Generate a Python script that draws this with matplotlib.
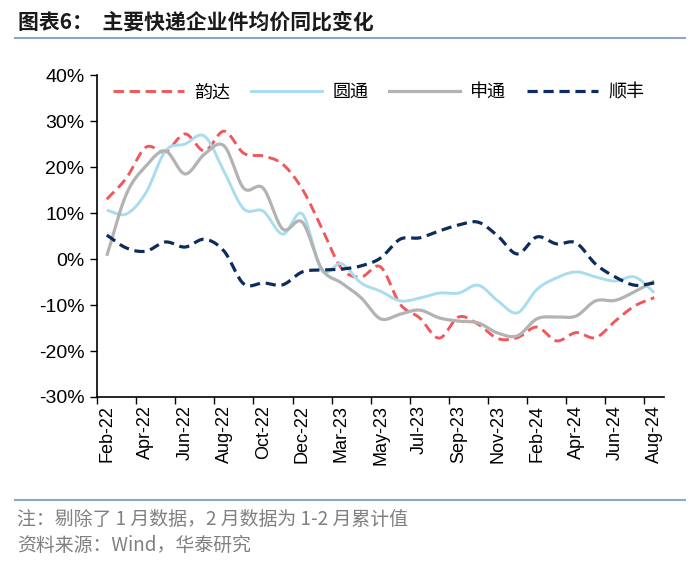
import numpy as np
import matplotlib.pyplot as plt
from matplotlib.ticker import FuncFormatter
from matplotlib.lines import Line2D

plt.rcParams['font.family'] = ['Liberation Sans', 'Noto Sans CJK SC', 'DejaVu Sans']

months = ['Feb-22', 'Mar-22', 'Apr-22', 'May-22', 'Jun-22', 'Jul-22', 'Aug-22', 'Sep-22', 'Oct-22', 'Nov-22', 'Dec-22',
          'Feb-23', 'Mar-23', 'Apr-23', 'May-23', 'Jun-23', 'Jul-23', 'Aug-23', 'Sep-23', 'Oct-23', 'Nov-23', 'Dec-23',
          'Feb-24', 'Mar-24', 'Apr-24', 'May-24', 'Jun-24', 'Jul-24', 'Aug-24']

# 同比, %
yunda = [13.0, 17.6, 24.3, 23.3, 27.2, 23.5, 27.8, 23.0, 22.4, 20.6, 15.2, 6.7, -2.0, -3.9, -1.7,
         -9.8, -12.8, -17.2, -12.6, -14.2, -17.3, -17.1, -14.8, -17.8, -16.0, -17.1, -13.5, -10.2, -8.4]
yto = [10.6, 9.8, 14.4, 23.5, 25.0, 26.7, 19.0, 10.9, 10.4, 5.4, 9.8, -2.5, -1.0, -5.2, -7.0,
       -9.1, -8.5, -7.4, -7.4, -5.7, -9.1, -11.7, -6.6, -4.1, -2.8, -3.9, -4.8, -3.9, -7.3]
sto = [0.7, 14.1, 20.2, 23.5, 18.5, 22.8, 24.6, 15.4, 15.4, 6.5, 8.0, -2.2, -5.2, -8.4, -13.0,
       -12.0, -11.1, -12.8, -13.5, -13.9, -16.1, -16.7, -13.0, -12.6, -12.4, -9.1, -9.0, -7.1, -4.8]
sf = [5.2, 2.4, 1.7, 3.7, 2.6, 4.3, 1.7, -5.4, -5.2, -5.6, -2.8, -2.4, -2.2, -1.5, 0.2,
      4.3, 4.6, 6.1, 7.4, 8.0, 5.0, 1.1, 4.8, 3.3, 3.5, -1.1, -3.9, -5.7, -5.2]


def smooth(y, n=16):
    # catmull-rom, like the smoothed lines in excel
    y = np.asarray(y, float)
    x = np.arange(len(y)) + 0.5
    pts = np.column_stack([x, y])
    ext = np.vstack([2 * pts[0] - pts[1], pts, 2 * pts[-1] - pts[-2]])
    t = np.linspace(0, 1, n, endpoint=False)[:, None]
    out = []
    for k in range(1, len(ext) - 2):
        p0, p1, p2, p3 = ext[k - 1], ext[k], ext[k + 1], ext[k + 2]
        out.append(0.5 * (2 * p1 + (-p0 + p2) * t + (2 * p0 - 5 * p1 + 4 * p2 - p3) * t ** 2
                          + (-p0 + 3 * p1 - 3 * p2 + p3) * t ** 3))
    out.append(pts[-1][None, :])
    out = np.vstack(out)
    return out[:, 0], out[:, 1]


fig = plt.figure(figsize=(7, 5.62), dpi=100)
ax = fig.add_axes([0.1386, 0.2936, 0.81, 0.5729])

series = [
    ('韵达', yunda, dict(color='#f0585c', lw=2.1, ls=(0, (3.6, 1.9)))),
    ('圆通', yto, dict(color='#aadcf0', lw=2.1, ls='-')),
    ('申通', sto, dict(color='#b3b3b3', lw=2.3, ls='-')),
    ('顺丰', sf, dict(color='#0c2c5c', lw=2.3, ls=(0, (3.2, 1.8)))),
]
handles = []
for name, vals, st in series:
    xs, ys = smooth(vals)
    ax.plot(xs, ys, solid_capstyle='butt', dash_capstyle='butt', **st)
    handles.append(Line2D([], [], label=name, **st))

ax.set_xlim(0, len(months))
ax.set_ylim(-30, 40)
ax.set_yticks(np.arange(-30, 41, 10))
ax.yaxis.set_major_formatter(FuncFormatter(lambda v, p: '{:.0f}%'.format(v)))
ax.set_xticks(np.arange(0, len(months), 2))
ax.set_xticklabels([])
ax.set_xticks(np.arange(0.5, len(months), 2), minor=True)
ax.set_xticklabels(months[::2], minor=True, rotation=90, fontsize=13)
ax.tick_params(axis='x', which='minor', length=0, pad=6)
ax.tick_params(axis='x', which='major', direction='out', length=5, width=1)
ax.tick_params(axis='y', direction='out', length=5, width=1, labelsize=14, pad=4)
for s in ['top', 'right']:
    ax.spines[s].set_visible(False)
for s in ['left', 'bottom']:
    ax.spines[s].set_linewidth(1.2)

leg = ax.legend(handles=handles, loc='upper center', bbox_to_anchor=(0.497, 1.025), ncol=4, frameon=False,
                prop={'family': 'Noto Sans CJK SC', 'size': 13}, handlelength=3.9, columnspacing=1.15,
                handletextpad=0.6)

cjk = ['Noto Sans CJK SC', 'DejaVu Sans']
fig.text(0.026, 0.961, '图表6：  主要快递企业件均价同比变化', fontsize=15, fontweight='bold',
         family=cjk, va='center', color='#1a1a1a')
fig.add_artist(Line2D([0.021, 0.979], [0.933, 0.933], color='#8aa6c8', lw=1.5))
fig.add_artist(Line2D([0.021, 0.979], [0.11, 0.11], color='#8aa6c8', lw=1.5))
fig.text(0.024, 0.076, '注：剔除了 1 月数据，2 月数据为 1-2 月累计值', fontsize=13.6, color='#808080', va='center',
         family=cjk)
fig.text(0.024, 0.029, '资料来源：Wind，华泰研究', fontsize=13.6, color='#808080', va='center',
         family=cjk)

fig.savefig('out.png', dpi=100)
